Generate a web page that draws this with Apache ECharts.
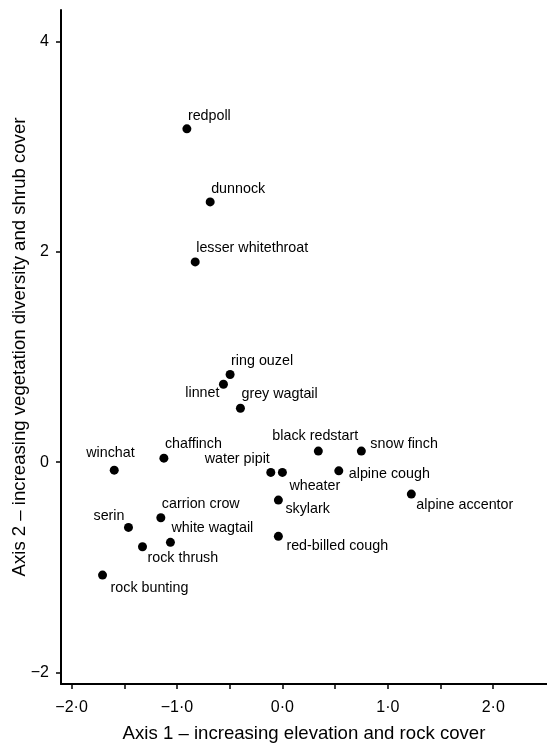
<!DOCTYPE html>
<html>
<head>
<meta charset="utf-8">
<script src="https://cdn.jsdelivr.net/npm/echarts@6/dist/echarts.min.js"></script>
<style>
  html, body { margin: 0; padding: 0; background: #fff; }
  #chart { width: 547px; height: 746px; }
</style>
</head>
<body>
<div id="chart"></div>
<script>
// Ordination scores of bird species
const species = ['redpoll', 'dunnock', 'lesser whitethroat', 'ring ouzel', 'linnet', 'grey wagtail',
  'winchat', 'chaffinch', 'water pipit', 'wheater', 'skylark', 'red-billed cough',
  'carrion crow', 'serin', 'white wagtail', 'rock thrush', 'rock bunting',
  'black redstart', 'snow finch', 'alpine cough', 'alpine accentor'];
const axis1 = [-0.906, -0.685, -0.827, -0.496, -0.559, -0.398,
  -1.595, -1.124, -0.110, 0.000, -0.038, -0.038,
  -1.153, -1.460, -1.062, -1.327, -1.706,
  0.341, 0.749, 0.535, 1.223];
const axis2 = [3.17, 2.475, 1.904, 0.834, 0.741, 0.513,
  -0.076, 0.038, -0.098, -0.098, -0.361, -0.706,
  -0.529, -0.621, -0.763, -0.805, -1.074,
  0.105, 0.105, -0.083, -0.304];

// Tick values
const xTickValues = [-2, -1.5, -1, -0.5, 0, 0.5, 1, 1.5, 2];
const xLabelValues = [-2, -1, 0, 1, 2];
const yTickValues = [-2, 0, 2, 4];

// Label placement around each dot: [dx, dy, align] from the dot centre
const labelPlace = {
  'redpoll': [1, -13, 'left'],
  'dunnock': [1, -13, 'left'],
  'lesser whitethroat': [1, -14, 'left'],
  'ring ouzel': [1, -13, 'left'],
  'linnet': [-4, 9, 'right'],
  'grey wagtail': [1, -14, 'left'],
  'winchat': [-28, -17, 'left'],
  'chaffinch': [1, -14, 'left'],
  'water pipit': [-1, -13, 'right'],
  'wheater': [7, 14, 'left'],
  'skylark': [7, 9, 'left'],
  'red-billed cough': [8, 10, 'left'],
  'carrion crow': [1, -14, 'left'],
  'serin': [-4, -11, 'right'],
  'white wagtail': [1, -14, 'left'],
  'rock thrush': [5, 11, 'left'],
  'rock bunting': [8, 13, 'left'],
  'black redstart': [-46, -15, 'left'],
  'snow finch': [9, -7, 'left'],
  'alpine cough': [10, 3, 'left'],
  'alpine accentor': [5, 11, 'left']
};

const SYMBOL = 9;

const fmtDecimal = v => {
  const s = Math.abs(v).toFixed(1).replace('.', '\u00B7');
  return (v < 0 ? '\u2212' : '') + s;
};
const fmtInt = v => (v < 0 ? '\u2212' : '') + Math.abs(v);

const font = 'Liberation Sans, Arial, Helvetica, sans-serif';

const data = species.map((name, i) => {
  const p = labelPlace[name];
  return {
    name: name,
    value: [axis1[i], axis2[i]],
    label: {
      show: true,
      formatter: name,
      // position is relative to the symbol's bounding box top-left corner
      position: [SYMBOL / 2 + p[0], SYMBOL / 2 + p[1]],
      align: p[2],
      verticalAlign: 'middle',
      color: '#000',
      fontFamily: font,
      fontSize: 14.3
    }
  };
});

const chart = echarts.init(document.getElementById('chart'), null, { renderer: 'canvas' });
chart.setOption({
  animation: false,
  backgroundColor: '#ffffff',
  grid: { left: 61, right: 0, top: 10, bottom: 62, containLabel: false, outerBoundsMode: 'none' },
  xAxis: {
    type: 'value',
    min: -2.1,
    max: 2.51,
    name: 'Axis 1 \u2013 increasing elevation and rock cover',
    nameLocation: 'middle',
    nameGap: 40,
    nameMoveOverlap: false,
    nameTextStyle: { fontFamily: font, fontSize: 18.6, color: '#000' },
    axisLine: { show: true, onZero: false, lineStyle: { color: '#000', width: 2 } },
    axisTick: { show: true, length: 5, customValues: xTickValues, lineStyle: { color: '#000', width: 1.5 } },
    axisLabel: { customValues: xLabelValues, formatter: fmtDecimal, fontFamily: font, fontSize: 16, color: '#000', margin: 16 },
    splitLine: { show: false }
  },
  yAxis: {
    type: 'value',
    min: -2.11,
    max: 4.3,
    name: 'Axis 2 \u2013 increasing vegetation diversity and shrub cover',
    nameLocation: 'middle',
    nameGap: 32,
    nameMoveOverlap: false,
    nameTextStyle: { fontFamily: font, fontSize: 18.6, color: '#000' },
    axisLine: { show: true, onZero: false, lineStyle: { color: '#000', width: 2 } },
    axisTick: { show: true, length: 5, customValues: yTickValues, lineStyle: { color: '#000', width: 1.5 } },
    axisLabel: { customValues: yTickValues, formatter: fmtInt, fontFamily: font, fontSize: 16, color: '#000', margin: 12 },
    splitLine: { show: false }
  },
  series: [{
    type: 'scatter',
    symbol: 'circle',
    symbolSize: SYMBOL,
    itemStyle: { color: '#000', opacity: 1 },
    labelLayout: { hideOverlap: false },
    data: data
  }]
});
</script>
</body>
</html>
